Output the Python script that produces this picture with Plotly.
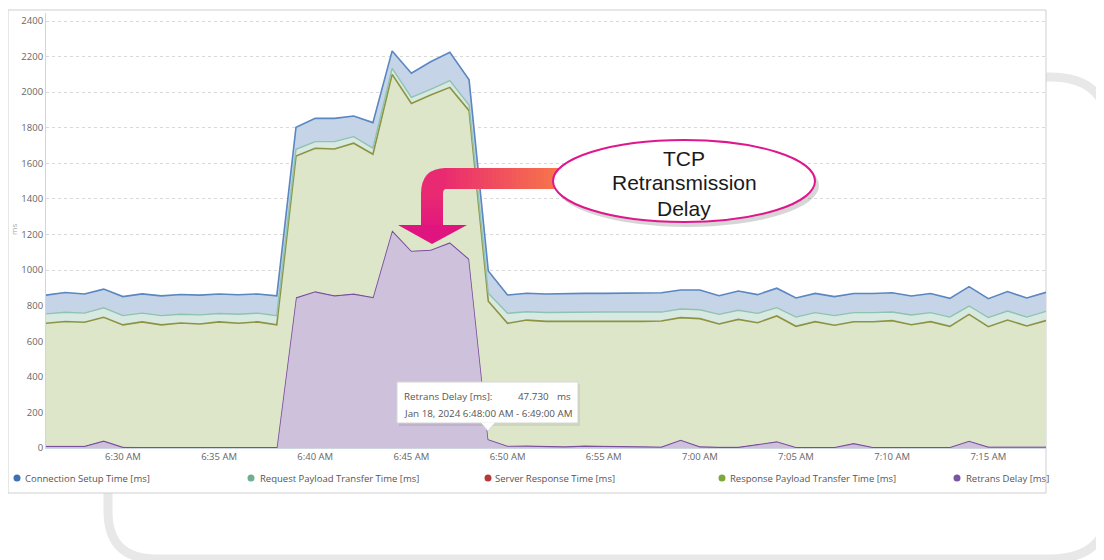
import plotly.graph_objects as go
import pandas as pd

# ---------------- data (per-minute samples, Jan 18 2024) ----------------
start_time = "2024-01-18 06:26:00"
n_points = 53
times = list(pd.date_range(start_time, periods=n_points, freq="min"))

retrans_delay = [10, 10, 10, 40, 5, 3, 3, 3, 4, 4, 3, 3, 3,
                 845, 879, 856, 866, 847, 1222, 1107, 1113, 1154, 1062,
                 47.73, 11, 12, 10, 8, 12, 10, 8, 10, 6,
                 45, 8, 5, 5, 20, 36, 4, 4, 4, 26,
                 4, 4, 4, 4, 4, 39, 6, 6, 6, 6]
server_response = [2, 2, 2, 2, 2, 2, 2, 2, 2, 2, 2, 2, 2,
                   2, 2, 2, 2, 2, 2, 2, 2, 2, 2,
                   2, 2, 2, 2, 2, 2, 2, 2, 2, 2,
                   2, 2, 2, 2, 2, 2, 2, 2, 2, 2,
                   2, 2, 2, 2, 2, 2, 2, 2, 2, 2]
response_payload = [689, 699, 695, 693, 685, 704, 687, 698, 691, 703, 696, 704, 687,
                    794, 804, 823, 845, 802, 876, 828, 869, 871, 832,
                    775, 688, 705, 700, 703, 699, 700, 702, 700, 706,
                    686, 717, 690, 716, 682, 704, 678, 704, 684, 682,
                    704, 710, 687, 704, 678, 710, 674, 711, 678, 708]
request_payload = [53, 52, 51, 53, 52, 49, 52, 49, 51, 47, 51, 49, 52,
                   38, 37, 41, 37, 34, 34, 34, 32, 38, 32,
                   45, 56, 47, 50, 51, 51, 52, 52, 52, 50,
                   48, 50, 54, 51, 53, 47, 52, 51, 54, 51,
                   51, 48, 55, 51, 52, 47, 51, 51, 50, 52]
connection_setup = [105, 111, 108, 105, 107, 108, 111, 111, 111, 110, 109, 108, 111,
                    124, 131, 131, 116, 144, 98, 135, 155, 159, 141,
                    125, 103, 104, 104, 105, 105, 105, 105, 105, 109,
                    107, 111, 105, 108, 105, 109, 107, 108, 107, 107,
                    107, 109, 106, 107, 105, 109, 106, 109, 107, 107]

series_names = ["Connection Setup Time [ms]", "Request Payload Transfer Time [ms]",
                "Server Response Time [ms]", "Response Payload Transfer Time [ms]",
                "Retrans Delay [ms]"]
legend_colors = ["#3f70b2", "#6fae8f", "#b33a3a", "#7aa83c", "#7a56a2"]
y_ticks = [0, 200, 400, 600, 800, 1000, 1200, 1400, 1600, 1800, 2000, 2200, 2400]
y_title = "ms"

tooltip_label = "Retrans Delay [ms]:"
tooltip_value = "47.730"
tooltip_unit = "ms"
tooltip_time = "Jan 18, 2024 6:48:00 AM - 6:49:00 AM"
callout_lines = ["TCP", "Retransmission", "Delay"]

# ---------------- geometry helpers (page pixels -> paper coords) ----------------
OFF = 8                      # browser body margin
FIG_W, FIG_H = 1104 - OFF, 560 - OFF
PL, PR, PT, PB = 46, 1046, 13, 448   # plot area in page pixels


def fx(x):
    return (x - PL) / (PR - PL)


def fy(y):
    return (PB - y) / (PB - PT)


def pt(x, y):
    return f"{fx(x):.5f},{fy(y):.5f}"


def hex2rgb(h):
    h = h.lstrip("#")
    return tuple(int(h[i:i + 2], 16) for i in (0, 2, 4))


def lerp(c1, c2, t):
    a, b = hex2rgb(c1), hex2rgb(c2)
    r = [round(a[i] + (b[i] - a[i]) * t) for i in range(3)]
    return f"rgb({r[0]},{r[1]},{r[2]})"


fig = go.Figure()

# stacked areas (bottom -> top)
stack = [
    (retrans_delay, series_names[4], "#7a4f9e", "#cdc1db", 1.6),
    (server_response, series_names[2], "rgba(0,0,0,0)", "rgba(0,0,0,0)", 0),
    (response_payload, series_names[3], "#8c9441", "#dde6c9", 1.6),
    (request_payload, series_names[1], "#8ec3ae", "#d8e9e2", 1.4),
    (connection_setup, series_names[0], "#5a86c2", "#c6d4e8", 1.6),
]
for vals, name, lc, fc, lw in stack:
    fig.add_trace(go.Scatter(
        x=times, y=vals, name=name, stackgroup="one", mode="lines",
        line=dict(color=lc, width=lw), fillcolor=fc, showlegend=False,
        hoverinfo="skip"))

# legend entries: one small legend per entry for exact spacing;
# the round dots are drawn close to the text as shapes
LEG_Y = 478
legend_text_x = [25, 260, 495, 730, 966]   # page px where each entry's text begins
legend_dot_x = [17, 251, 488, 722, 957]
legend_ids = ["legend", "legend2", "legend3", "legend4", "legend5"]
for name, lid in zip(series_names, legend_ids):
    fig.add_trace(go.Scatter(x=[None], y=[None], mode="markers", name=name,
                             marker=dict(size=7, color="rgba(0,0,0,0)"), showlegend=True,
                             legend=lid))

legend_layout = {}
for lid, tx in zip(legend_ids, legend_text_x):
    legend_layout[lid] = dict(
        orientation="h", x=fx(tx - 40), xanchor="left", y=fy(LEG_Y), yanchor="middle",
        font=dict(family="Open Sans", size=9.5, color="#555"),
        bgcolor="rgba(0,0,0,0)", itemwidth=30, borderwidth=0)

shapes = []
# decorative slide background rounded frame
shapes.append(dict(
    type="path", xref="paper", yref="paper", layer="below",
    path=(f"M {pt(108, 140)} Q {pt(108, 77)} {pt(170, 77)} L {pt(1050, 77)} "
          f"Q {pt(1110, 77)} {pt(1110, 137)} L {pt(1110, 500)} Q {pt(1110, 559)} {pt(1050, 559)} "
          f"L {pt(156, 559)} Q {pt(108, 559)} {pt(108, 511)} Z"),
    line=dict(color="#e8e8e8", width=9), fillcolor="rgba(0,0,0,0)"))
# chart card
shapes.append(dict(type="rect", xref="paper", yref="paper", layer="below",
                   x0=fx(8), x1=fx(1046), y0=fy(493), y1=fy(10),
                   fillcolor="white", line=dict(color="#cfcfcf", width=1)))

# legend dots
for dx, col in zip(legend_dot_x, legend_colors):
    shapes.append(dict(type="circle", xref="paper", yref="paper", layer="above",
                       x0=fx(dx - 3.5), x1=fx(dx + 3.5), y0=fy(LEG_Y + 3.5), y1=fy(LEG_Y - 3.5),
                       fillcolor=col, line=dict(width=0)))

# tooltip
shapes.append(dict(type="rect", xref="paper", yref="paper", layer="above",
                   x0=fx(399), x1=fx(580), y0=fy(426), y1=fy(384),
                   fillcolor="rgba(0,0,0,0.07)", line=dict(width=0)))
shapes.append(dict(type="rect", xref="paper", yref="paper", layer="above",
                   x0=fx(397), x1=fx(578), y0=fy(423), y1=fy(382),
                   fillcolor="white", line=dict(color="#d6d6d6", width=1)))
shapes.append(dict(type="path", xref="paper", yref="paper", layer="above",
                   path=f"M {pt(481, 422.5)} L {pt(488, 431)} L {pt(495, 422.5)} Z",
                   fillcolor="white", line=dict(width=0)))
shapes.append(dict(type="path", xref="paper", yref="paper", layer="above",
                   path=f"M {pt(481, 423)} L {pt(488, 431)} L {pt(495, 423)}",
                   line=dict(color="#d6d6d6", width=1)))

# callout arrow (gradient orange -> magenta)
x = 444
while x < 562:
    t = (x - 444) / (562 - 444)
    shapes.append(dict(type="rect", xref="paper", yref="paper", layer="above",
                       x0=fx(x), x1=fx(x + 4.6), y0=fy(189), y1=fy(168),
                       fillcolor=lerp("#ea2c70", "#f87a48", t), line=dict(width=0)))
    x += 4
shapes.append(dict(type="path", xref="paper", yref="paper", layer="above",
                   path=(f"M {pt(421, 194)} Q {pt(421, 168)} {pt(446, 168)} L {pt(446, 189)} "
                         f"Q {pt(443, 189)} {pt(443, 194)} Z"),
                   fillcolor="#e92a72", line=dict(width=0)))
y = 192
while y < 227:
    t = (y - 192) / (227 - 192)
    shapes.append(dict(type="rect", xref="paper", yref="paper", layer="above",
                       x0=fx(421), x1=fx(443), y0=fy(y + 4.6), y1=fy(y),
                       fillcolor=lerp("#e92a72", "#e1167e", t), line=dict(width=0)))
    y += 4
shapes.append(dict(type="path", xref="paper", yref="paper", layer="above",
                   path=f"M {pt(398, 225)} L {pt(467, 225)} L {pt(432, 244)} Z",
                   fillcolor="#e0147f", line=dict(width=0)))

# callout ellipse
shapes.append(dict(type="circle", xref="paper", yref="paper", layer="above",
                   x0=fx(556), x1=fx(819), y0=fy(227), y1=fy(144),
                   fillcolor="rgba(0,0,0,0.16)", line=dict(width=0)))
shapes.append(dict(type="circle", xref="paper", yref="paper", layer="above",
                   x0=fx(553), x1=fx(815), y0=fy(222), y1=fy(140),
                   fillcolor="white", line=dict(color="#e0168c", width=2)))

tip_font = dict(family="Open Sans", size=9.8, color="#555")
annotations = []
for line_text, ly in zip(callout_lines, [158, 183, 208]):
    annotations.append(dict(
        x=fx(684), y=fy(ly), xref="paper", yref="paper", text=line_text,
        showarrow=False, font=dict(family="Liberation Sans, Arial", size=21, color="#1a1a1a"),
        xanchor="center", yanchor="middle"))
annotations += [
    dict(x=fx(402), y=fy(396), xref="paper", yref="paper", text=tooltip_label,
         showarrow=False, font=tip_font, xanchor="left", yanchor="middle"),
    dict(x=fx(551), y=fy(396), xref="paper", yref="paper", text=tooltip_value,
         showarrow=False, font=tip_font, xanchor="right", yanchor="middle"),
    dict(x=fx(555), y=fy(396), xref="paper", yref="paper", text=tooltip_unit,
         showarrow=False, font=tip_font, xanchor="left", yanchor="middle"),
    dict(x=fx(402), y=fy(413), xref="paper", yref="paper", text=tooltip_time,
         showarrow=False, font=tip_font, xanchor="left", yanchor="middle"),
    dict(x=fx(13), y=fy(230), xref="paper", yref="paper", text=y_title, textangle=-90,
         showarrow=False, font=dict(family="Open Sans", size=8, color="#aaa"),
         xanchor="center", yanchor="middle"),
]

fig.update_layout(
    width=FIG_W, height=FIG_H,
    margin=dict(l=PL - OFF, r=1104 - PR, t=PT - OFF, b=560 - PB, autoexpand=False),
    paper_bgcolor="white", plot_bgcolor="rgba(0,0,0,0)",
    font=dict(family="Open Sans", size=10, color="#555"),
    hovermode=False,
    shapes=shapes, annotations=annotations,
    xaxis=dict(range=["2024-01-18 06:26:00", "2024-01-18 07:18:00"], type="date",
               tickformat="%-I:%M %p", dtick=300000, tick0="2024-01-18 06:30:00",
               showgrid=False, showline=True, linecolor="#cfd6e2", zeroline=False,
               automargin=False,
               ticks="", tickfont=dict(family="Open Sans", size=9.5, color="#666")),
    yaxis=dict(range=[0, 2445], tickvals=y_ticks, showgrid=True, gridcolor="#d9d9d9",
               griddash="dot", showline=True, linecolor="#cfd6e2", zeroline=False,
               automargin=False,
               ticks="", tickfont=dict(family="Open Sans", size=9.5, color="#666")),
    **legend_layout,
)

fig.write_html("out.html")
